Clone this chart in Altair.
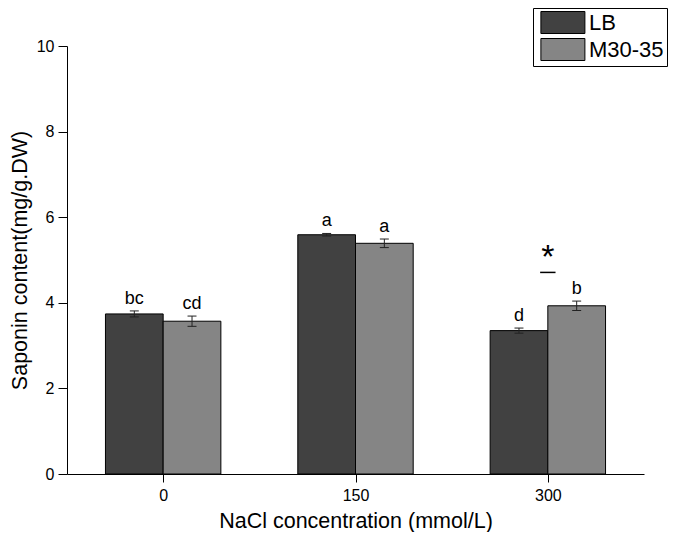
import altair as alt
import pandas as pd

# ---- data ----
categories = [0, 150, 300]
series = ["LB", "M30-35"]
lb_mean = [3.74, 5.59, 3.35]
lb_err = [0.07, 0.03, 0.06]
m_mean = [3.57, 5.39, 3.93]
m_err = [0.12, 0.10, 0.11]
lb_letters = ["bc", "a", "d"]
m_letters = ["cd", "a", "b"]
y_ticks = [0, 2, 4, 6, 8, 10]

# significance annotation (between bars at 300)
sig_x = [300]
sig_star_y = [5.16]
sig_dash_y = [4.71]

# ---- styling constants ----
BAR_W = 45      # bar width in x units
CAP = 3.5       # error cap half-width in x units
DASH = 6        # dash half-width in x units
FONT = "Liberation Sans"
colors = ["#414141", "#858585"]

rows = []
for i, c in enumerate(categories):
    for s, means, errs, lets, side in [
        ("LB", lb_mean, lb_err, lb_letters, -1),
        ("M30-35", m_mean, m_err, m_letters, 1),
    ]:
        x0 = c if side > 0 else c - BAR_W
        x1 = c + BAR_W if side > 0 else c
        ctr = (x0 + x1) / 2
        rows.append(dict(
            cat=c, series=s, mean=means[i], x0=x0, x1=x1, center=ctr,
            lo=means[i] - errs[i], hi=means[i] + errs[i],
            capL=ctr - CAP, capR=ctr + CAP, letter=lets[i],
        ))
df = pd.DataFrame(rows)

sig_df = pd.DataFrame(dict(
    x=sig_x, star=sig_star_y, dash=sig_dash_y,
    dx0=[v - DASH for v in sig_x], dx1=[v + DASH for v in sig_x],
))

xscale = alt.Scale(domain=[-75, 375], nice=False, zero=False)
yscale = alt.Scale(domain=[0, 10], nice=False)

xaxis = alt.Axis(
    title="NaCl concentration (mmol/L)", values=categories, grid=False,
    tickSize=8, tickColor="black", domainColor="black", labelColor="black",
    labelFont=FONT, labelFontSize=16, labelPadding=5, labelFlush=False,
    titleFont=FONT, titleFontSize=21.5, titleFontWeight="normal", titleColor="black",
    titleY=53, titleBaseline="alphabetic",
)
yaxis = alt.Axis(
    title="Saponin content(mg/g.DW)", values=y_ticks, grid=False,
    tickSize=9, tickColor="black", domainColor="black", labelColor="black",
    labelFont=FONT, labelFontSize=16, labelPadding=4,
    titleFont=FONT, titleFontSize=21.5, titleFontWeight="normal", titleColor="black",
    titleX=-41, titleY=214, titleAngle=-90, titleAlign="center",
    titleBaseline="alphabetic",
)

X = lambda f: alt.X(f, type="quantitative", scale=xscale, axis=xaxis)
Y = lambda f: alt.Y(f, type="quantitative", scale=yscale, axis=yaxis)

bars = alt.Chart(df).mark_bar(stroke="black", strokeWidth=1, opacity=1).encode(
    x=X("x0"), x2="x1", y=Y("mean"), y2=alt.datum(0),
    fill=alt.Fill("series:N", scale=alt.Scale(domain=series, range=colors),
                  legend=alt.Legend(
                      title=None, orient="none", legendX=466, legendY=-38,
                      symbolType="M-0.6,-1H3.4V1H-0.6Z", symbolSize=484,
                      symbolStrokeColor="black", symbolStrokeWidth=1,
                      symbolOpacity=1, labelFont=FONT, labelFontSize=22,
                      labelColor="black", labelOffset=30, rowPadding=0,
                      strokeColor="black", fillColor="white", padding=3,
                  )),
)

err = alt.Chart(df).mark_rule(color="#222222", strokeWidth=1).encode(
    x=X("center"), y=Y("lo"), y2="hi")
cap_hi = alt.Chart(df).mark_rule(color="#222222", strokeWidth=1).encode(
    x=X("capL"), x2="capR", y=Y("hi"))
cap_lo = alt.Chart(df).mark_rule(color="#222222", strokeWidth=1).encode(
    x=X("capL"), x2="capR", y=Y("lo"))

letters = alt.Chart(df).mark_text(
    font=FONT, fontSize=18, color="black", baseline="alphabetic", dy=-7
).encode(x=X("center"), y=Y("hi"), text="letter:N")

star = alt.Chart(sig_df).mark_text(
    text="*", font=FONT, fontSize=34, color="black", baseline="middle", dy=5
).encode(x=X("x"), y=Y("star"))
dash = alt.Chart(sig_df).mark_rule(color="black", strokeWidth=1.5).encode(
    x=X("dx0"), x2="dx1", y=Y("dash"))

chart = alt.layer(bars, err, cap_hi, cap_lo, letters, star, dash).properties(
    width=577, height=428,
    autosize=alt.AutoSizeParams(type="none"),
    padding={"left": 59, "top": 38, "right": 26, "bottom": 58},
    background="white",
).configure_view(stroke=None)

chart.save("out.html", embed_options={"renderer": "svg", "actions": False})
